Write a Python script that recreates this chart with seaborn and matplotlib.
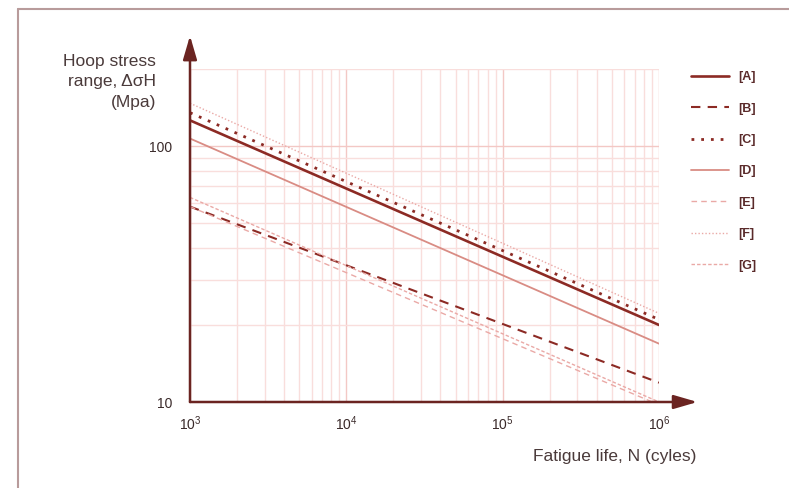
import numpy as np
import pandas as pd
import matplotlib
matplotlib.use("Agg")
import matplotlib.pyplot as plt
import seaborn as sns
from matplotlib.lines import Line2D
from matplotlib.ticker import LogLocator, FixedLocator, FixedFormatter, NullFormatter

# ---- data ----
cycles = [1e3, 1e6]
series_names = ["[A]", "[B]", "[C]", "[D]", "[E]", "[F]", "[G]"]
stress_A = [126, 20.0]
stress_B = [58, 11.9]
stress_C = [135, 21.0]
stress_D = [107, 16.9]
stress_E = [58, 9.75]
stress_F = [147, 22.2]
stress_G = [63, 10.0]
x_tick_values = [1e3, 1e4, 1e5, 1e6]
x_tick_labels = ["$10^{3}$", "$10^{4}$", "$10^{5}$", "$10^{6}$"]
y_tick_values = [10, 100]
y_tick_labels = ["10", "100"]

values = [stress_A, stress_B, stress_C, stress_D, stress_E, stress_F, stress_G]
df = pd.DataFrame({
    "N": np.tile(cycles, len(series_names)),
    "stress": np.concatenate(values),
    "series": np.repeat(series_names, len(cycles)),
})

dark = "#8c2a24"
mid = "#d98c84"
light = "#eaa9a6"
styles = {
    "[A]": dict(color=dark, lw=1.9, ls="-"),
    "[B]": dict(color=dark, lw=1.5, ls=(0, (4.5, 3.5))),
    "[C]": dict(color=dark, lw=2.0, ls=(0, (1, 2.5))),
    "[D]": dict(color=mid, lw=1.3, ls="-"),
    "[E]": dict(color=light, lw=1.0, ls=(0, (4, 3))),
    "[F]": dict(color=light, lw=1.0, ls=(0, (1, 1.5))),
    "[G]": dict(color=light, lw=1.0, ls=(0, (2.5, 1.5))),
}

sns.set_theme(style="white")
plt.rcParams["font.family"] = ["Liberation Sans", "DejaVu Sans"]
plt.rcParams["mathtext.fontset"] = "custom"
plt.rcParams["mathtext.rm"] = "Liberation Sans"
plt.rcParams["mathtext.it"] = "Liberation Sans"

fig = plt.figure(figsize=(7.89, 4.88), dpi=100)
W, H = 789, 488
ax = fig.add_axes([190 / W, 1 - 402 / H, (659 - 190) / W, (402 - 69) / H])

handles = []
for name in series_names:
    st = styles[name]
    sub = df[df["series"] == name]
    sns.lineplot(data=sub, x="N", y="stress", ax=ax, color=st["color"],
                 linewidth=st["lw"], linestyle=st["ls"], legend=False)
    handles.append(Line2D([], [], color=st["color"], lw=st["lw"], ls=st["ls"]))

ax.set_xscale("log")
ax.set_yscale("log")
ax.set_xlim(1e3, 1e6)
ax.set_ylim(10, 200)

ax.xaxis.set_major_locator(FixedLocator(x_tick_values))
ax.xaxis.set_major_formatter(FixedFormatter(x_tick_labels))
ax.xaxis.set_minor_locator(LogLocator(base=10, subs=np.arange(2, 10)))
ax.xaxis.set_minor_formatter(NullFormatter())
ax.yaxis.set_major_locator(FixedLocator(y_tick_values))
ax.yaxis.set_major_formatter(FixedFormatter(y_tick_labels))
ax.yaxis.set_minor_locator(LogLocator(base=10, subs=np.arange(2, 10)))
ax.yaxis.set_minor_formatter(NullFormatter())
ax.grid(True, which="major", color="#f3c8c5", lw=1.0)
ax.grid(True, which="minor", color="#f9dedc", lw=1.0)
ax.set_axisbelow(True)

ax.tick_params(axis="both", which="both", length=0, labelsize=10, colors="#3a2a2a")
ax.tick_params(axis="x", pad=9)
ax.tick_params(axis="y", pad=13)
ax.set_xlabel("")
ax.set_ylabel("")
for s in ax.spines.values():
    s.set_visible(False)

axis_c = "#6b2421"
# axis arrows
ax.annotate("", xy=(0, 1.10), xytext=(0, 0), xycoords="axes fraction",
            arrowprops=dict(arrowstyle="-|>,head_width=0.35,head_length=1.2",
                            color=axis_c, lw=1.8, shrinkA=0, shrinkB=0),
            annotation_clip=False)
ax.annotate("", xy=(1.082, 0), xytext=(0, 0), xycoords="axes fraction",
            arrowprops=dict(arrowstyle="-|>,head_width=0.35,head_length=1.2",
                            color=axis_c, lw=1.8, shrinkA=0, shrinkB=0),
            annotation_clip=False)

text_c = "#4a3a3a"
fig.text(156 / W, 1 - 54 / H, "Hoop stress\nrange, ΔσH\n(Mpa)", ha="right", va="top",
         fontsize=12.5, color=text_c, linespacing=1.45)
fig.text(696 / W, 1 - 456 / H, "Fatigue life, N (cyles)", ha="right", va="center",
         fontsize=12.5, color=text_c)

leg = fig.legend(handles, series_names, loc="upper left",
                 bbox_to_anchor=(680 / W, 1 - 60 / H), frameon=False,
                 handlelength=3.0, handletextpad=0.75, labelspacing=1.55,
                 fontsize=9)
for t in leg.get_texts():
    t.set_color("#5a2a2a")
    t.set_fontweight("bold")

# outer frame
frame_c = "#b89b9b"
fig.add_artist(Line2D([18 / W, 1], [1 - 9 / H, 1 - 9 / H], color=frame_c, lw=1.5,
                      transform=fig.transFigure))
fig.add_artist(Line2D([18 / W, 18 / W], [0, 1 - 9 / H], color=frame_c, lw=1.5,
                      transform=fig.transFigure))

fig.savefig("out.png", dpi=100, facecolor="white")
